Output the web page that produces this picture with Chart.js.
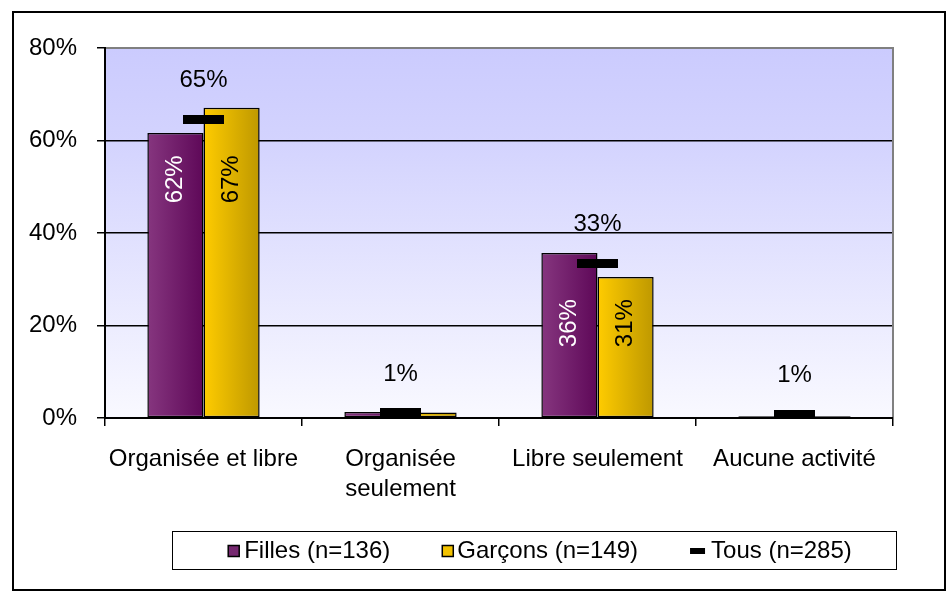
<!DOCTYPE html>
<html><head><meta charset="utf-8">
<script src="https://cdn.jsdelivr.net/npm/chart.js@4/dist/chart.umd.min.js"></script>
<style>html,body{margin:0;padding:0;background:#fff}canvas{display:block}</style>
</head><body>
<canvas id="c" width="951" height="593"></canvas>
<script>
// ---- data ----
const categories = [["Organisée et libre"], ["Organisée", "seulement"], ["Libre seulement"], ["Aucune activité"]];
const filles = [61.6, 1.3, 35.7, 0.4];
const garcons = [67.1, 1.2, 30.5, 0.4];
const tous = [64.6, 1.1, 33.4, 0.8];
const seriesLabels = ["Filles (n=136)", "Garçons (n=149)", "Tous (n=285)"];
const yTicks = [0, 20, 40, 60, 80];

// ---- style ----
const FONT = "'Liberation Sans', Arial, sans-serif";
const CAT_PCT = 0.57;
Chart.defaults.font.family = FONT;
Chart.defaults.font.size = 24;
Chart.defaults.color = '#000';

function barFill(c1, c2, barIdx) {
  return (ctx) => {
    if (ctx.type !== 'data') return c1;
    const chart = ctx.chart;
    const xs = chart.scales && chart.scales.x;
    if (!xs || !xs.width) return c1;
    const center = xs.getPixelForValue(ctx.dataIndex);
    const catW = xs.width / categories.length;
    const barW = catW * CAT_PCT / 2;
    const left = center - barW + barIdx * barW;
    const g = chart.ctx.createLinearGradient(left, 0, left + barW, 0);
    g.addColorStop(0, c1);
    g.addColorStop(1, c2);
    return g;
  };
}

const dash = document.createElement('canvas');
dash.width = 41; dash.height = 9;
(function(){ const d = dash.getContext('2d'); d.fillStyle = '#000'; d.fillRect(0,0,41,9); })();

const framePlugin = {
  id: 'frame',
  beforeDraw(chart) {
    const ctx = chart.ctx, ca = chart.chartArea;
    ctx.save();
    ctx.fillStyle = '#fff';
    ctx.fillRect(0, 0, chart.width, chart.height);
    ctx.lineWidth = 2;
    ctx.strokeStyle = '#000';
    ctx.strokeRect(13, 12, 932, 578);
    const g = ctx.createLinearGradient(0, ca.top, 0, ca.bottom);
    g.addColorStop(0, '#CBCBFE');
    g.addColorStop(0.25, '#D3D3FE');
    g.addColorStop(1, '#F9F9FF');
    ctx.fillStyle = g;
    ctx.fillRect(ca.left, ca.top, ca.right - ca.left, ca.bottom - ca.top);
    ctx.restore();
  },
  beforeDatasetsDraw(chart) {
    const ctx = chart.ctx, ca = chart.chartArea;
    ctx.save();
    ctx.strokeStyle = '#808080';
    ctx.lineWidth = 2;
    ctx.beginPath();
    ctx.moveTo(ca.left + 1, ca.top);
    ctx.lineTo(ca.right, ca.top);
    ctx.lineTo(ca.right, ca.bottom - 1);
    ctx.stroke();
    ctx.restore();
  },
  afterDatasetsDraw(chart) {
    const ctx = chart.ctx;
    const ys = chart.scales.y;
    ctx.save();
    ctx.font = '24px ' + FONT;
    ctx.textAlign = 'center';
    ctx.textBaseline = 'middle';
    // Tous labels above markers
    const mt = chart.getDatasetMeta(2);
    mt.data.forEach((p, i) => {
      ctx.fillStyle = '#000';
      ctx.fillText(Math.round(tous[i]) + '%', p.x, p.y - 39);
    });
    // rotated labels inside bars
    const mf = chart.getDatasetMeta(0), mg = chart.getDatasetMeta(1);
    categories.forEach((c, i) => {
      const lo = Math.min(filles[i], garcons[i]);
      if (lo < 5) return;
      const yc = ys.getPixelForValue(lo - 10);
      [[mf, filles, '#fff'], [mg, garcons, '#000']].forEach(([m, arr, col]) => {
        const el = m.data[i];
        ctx.save();
        ctx.translate(el.x, yc);
        ctx.rotate(-Math.PI / 2);
        ctx.fillStyle = col;
        ctx.fillText(Math.round(arr[i]) + '%', 0, 0);
        ctx.restore();
      });
    });
    ctx.restore();
  },
  afterDraw(chart) {
    const ctx = chart.ctx;
    ctx.save();
    ctx.lineWidth = 1;
    ctx.strokeStyle = '#000';
    ctx.strokeRect(172.5, 531.5, 724, 38);
    ctx.font = '24px ' + FONT;
    ctx.textBaseline = 'middle';
    ctx.textAlign = 'left';
    const mw = [11, 11, 15];
    const gapM = [5, 4, 6], gapI = 52;
    const tw = seriesLabels.map(s => ctx.measureText(s).width);
    let total = gapI * 2;
    for (let i = 0; i < 3; i++) total += mw[i] + gapM[i] + tw[i];
    let x = 540 - total / 2;
    const yc = 551;
    for (let i = 0; i < 3; i++) {
      if (i < 2) {
        ctx.fillStyle = i === 0 ? '#762870' : '#F2C200';
        ctx.fillRect(x, yc - 5.5, 11, 11);
        ctx.lineWidth = 1.5;
        ctx.strokeRect(x, yc - 5.5, 11, 11);
      } else {
        ctx.fillStyle = '#000';
        ctx.fillRect(x, yc - 3, 15, 6);
      }
      x += mw[i] + gapM[i];
      ctx.fillStyle = '#000';
      ctx.fillText(seriesLabels[i], x, yc);
      x += tw[i] + gapI;
    }
    ctx.restore();
  }
};

new Chart(document.getElementById('c'), {
  data: {
    labels: categories,
    datasets: [
      { type: 'bar', label: seriesLabels[0], data: filles, order: 1,
        backgroundColor: barFill('#86367F', '#5E0858', 0),
        borderColor: '#000', borderWidth: 1.5, borderSkipped: false,
        categoryPercentage: CAT_PCT, barPercentage: 1 },
      { type: 'bar', label: seriesLabels[1], data: garcons, order: 1,
        backgroundColor: barFill('#FFCC00', '#BE9800', 1),
        borderColor: '#000', borderWidth: 1.5, borderSkipped: false,
        categoryPercentage: CAT_PCT, barPercentage: 1 },
      { type: 'line', label: seriesLabels[2], data: tous, order: -1,
        showLine: false, pointStyle: dash, pointRadius: 5, pointHoverRadius: 5 }
    ]
  },
  options: {
    responsive: false,
    animation: false,
    events: [],
    layout: { padding: { top: 48, right: 58, left: 0, bottom: 0 } },
    plugins: { legend: { display: false }, tooltip: { enabled: false } },
    scales: {
      x: {
        offset: true,
        grid: { offset: true, drawOnChartArea: false, drawTicks: true, tickLength: 8, color: '#000', lineWidth: 1.5 },
        border: { color: '#000', width: 2 },
        ticks: { padding: 18, maxRotation: 0, autoSkip: false, font: { size: 24, lineHeight: 1.25 } },
        afterFit: s => { s.height = 593 - 418; }
      },
      y: {
        min: 0, max: 80,
        afterBuildTicks: s => { s.ticks = yTicks.map(v => ({ value: v })); },
        grid: { color: '#000', lineWidth: 1.5, tickLength: 8 },
        border: { color: '#000', width: 2 },
        ticks: { padding: 20, callback: v => v + '%', font: { size: 24 } },
        afterFit: s => { s.width = 105; }
      }
    }
  },
  plugins: [framePlugin]
});
</script>
</body></html>
